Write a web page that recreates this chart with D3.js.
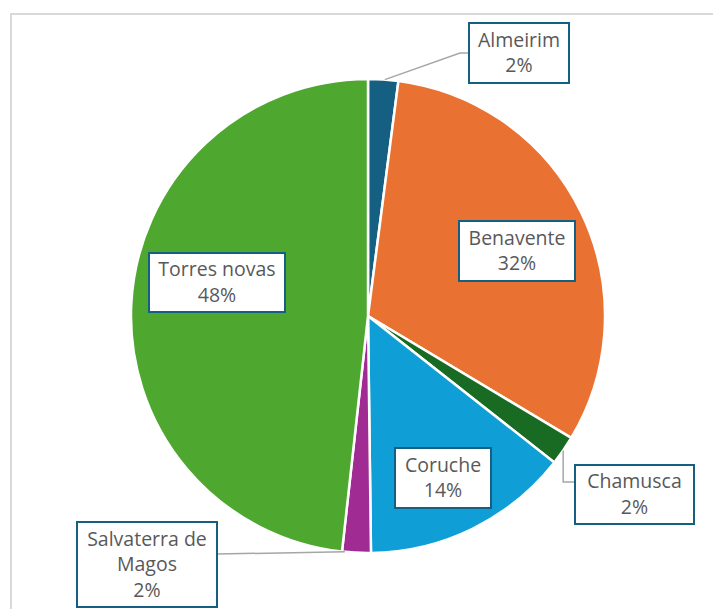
<!DOCTYPE html>
<html><head><meta charset="utf-8">
<script src="https://cdn.jsdelivr.net/npm/d3@7"></script>
<style>html,body{margin:0;padding:0;background:#fff;}svg{display:block;}</style>
</head><body>
<svg id="c" width="713" height="609"></svg>
<script>
const categories = ["Almeirim","Benavente","Chamusca","Coruche","Salvaterra de Magos","Torres novas"];
const values = [2.05, 31.55, 2.0, 14.2, 1.95, 48.25];
const colors = ["#156082","#E97132","#196B24","#0F9ED5","#A02B93","#4EA72E"];
// label text lines (category lines + percent)
const labelLines = [["Almeirim"],["Benavente"],["Chamusca"],["Coruche"],["Salvaterra de","Magos"],["Torres novas"]];
// label box layout: centre offset from pie centre, box width/height
const labelLayout = [
  {dx:151, dy:-263, w:100, h:60},
  {dx:149, dy:-65, w:116, h:60},
  {dx:266.5, dy:178.5, w:119, h:59},
  {dx:75, dy:162, w:96, h:60},
  {dx:-221, dy:248.5, w:140, h:85},
  {dx:-151, dy:-33.5, w:136, h:59}
];

const svg = d3.select("#c");
const cx = 368, cy = 316, R = 237;

// chart frame
svg.append("rect").attr("x",11).attr("y",14).attr("width",760).attr("height",660)
  .attr("fill","none").attr("stroke","#d9d9d9").attr("stroke-width",2);

const total = d3.sum(values);
const fmt = v => Math.round(v/total*100) + "%";
const pie = d3.pie().sort(null).value(d=>d)(values);
const arc = d3.arc().innerRadius(0).outerRadius(R);
const g = svg.append("g").attr("transform",`translate(${cx},${cy})`);
g.selectAll("path.slice").data(pie).join("path").attr("class","slice")
  .attr("d",arc).attr("fill",(d,i)=>colors[i])
  .attr("stroke","#fff").attr("stroke-width",2.5).attr("stroke-linejoin","round");

// leader lines for outside labels
function edgePoint(d, frac){ const a = d.startAngle + (d.endAngle-d.startAngle)*frac; return [Math.sin(a)*R, -Math.cos(a)*R]; }
const leaders = [];
{ // Almeirim
  const p = edgePoint(pie[0],0.55), L = labelLayout[0];
  const bx = L.dx - L.w/2;
  leaders.push([p,[bx-9, L.dy+0],[bx, L.dy]]);
}
{ // Chamusca
  const p = edgePoint(pie[2],0.5), L = labelLayout[2];
  const bx = L.dx - L.w/2;
  leaders.push([p,[p[0], L.dy-12.5],[bx, L.dy-12.5]]);
}
{ // Salvaterra
  const p = edgePoint(pie[4],0.9), L = labelLayout[4];
  const bx = L.dx + L.w/2;
  leaders.push([[p[0],p[1]],[bx, L.dy-10.5]]);
}
g.selectAll("path.leader").data(leaders).join("path").attr("class","leader")
  .attr("d",d=>d3.line()(d)).attr("fill","none").attr("stroke","#a6a6a6").attr("stroke-width",1.5);

const lg = g.selectAll("g.lab").data(pie).join("g").attr("class","lab")
  .attr("transform",(d,i)=>`translate(${labelLayout[i].dx},${labelLayout[i].dy})`);
lg.append("rect").attr("x",(d,i)=>-labelLayout[i].w/2).attr("y",(d,i)=>-labelLayout[i].h/2)
  .attr("width",(d,i)=>labelLayout[i].w).attr("height",(d,i)=>labelLayout[i].h)
  .attr("fill","#fff").attr("stroke","#156082").attr("stroke-width",2);
const lh = 25.5;
lg.each(function(d,i){
  const lines = labelLines[i].concat([fmt(values[i])]);
  const n = lines.length;
  const t = d3.select(this).append("text").attr("text-anchor","middle")
    .attr("font-family","'Open Sans', sans-serif").attr("font-size",19.5).attr("fill","#595959");
  lines.forEach((s,k)=>{
    t.append("tspan").attr("x",0).attr("y",(k-(n-1)/2)*lh + 6.5).text(s);
  });
});
</script>
</body></html>
